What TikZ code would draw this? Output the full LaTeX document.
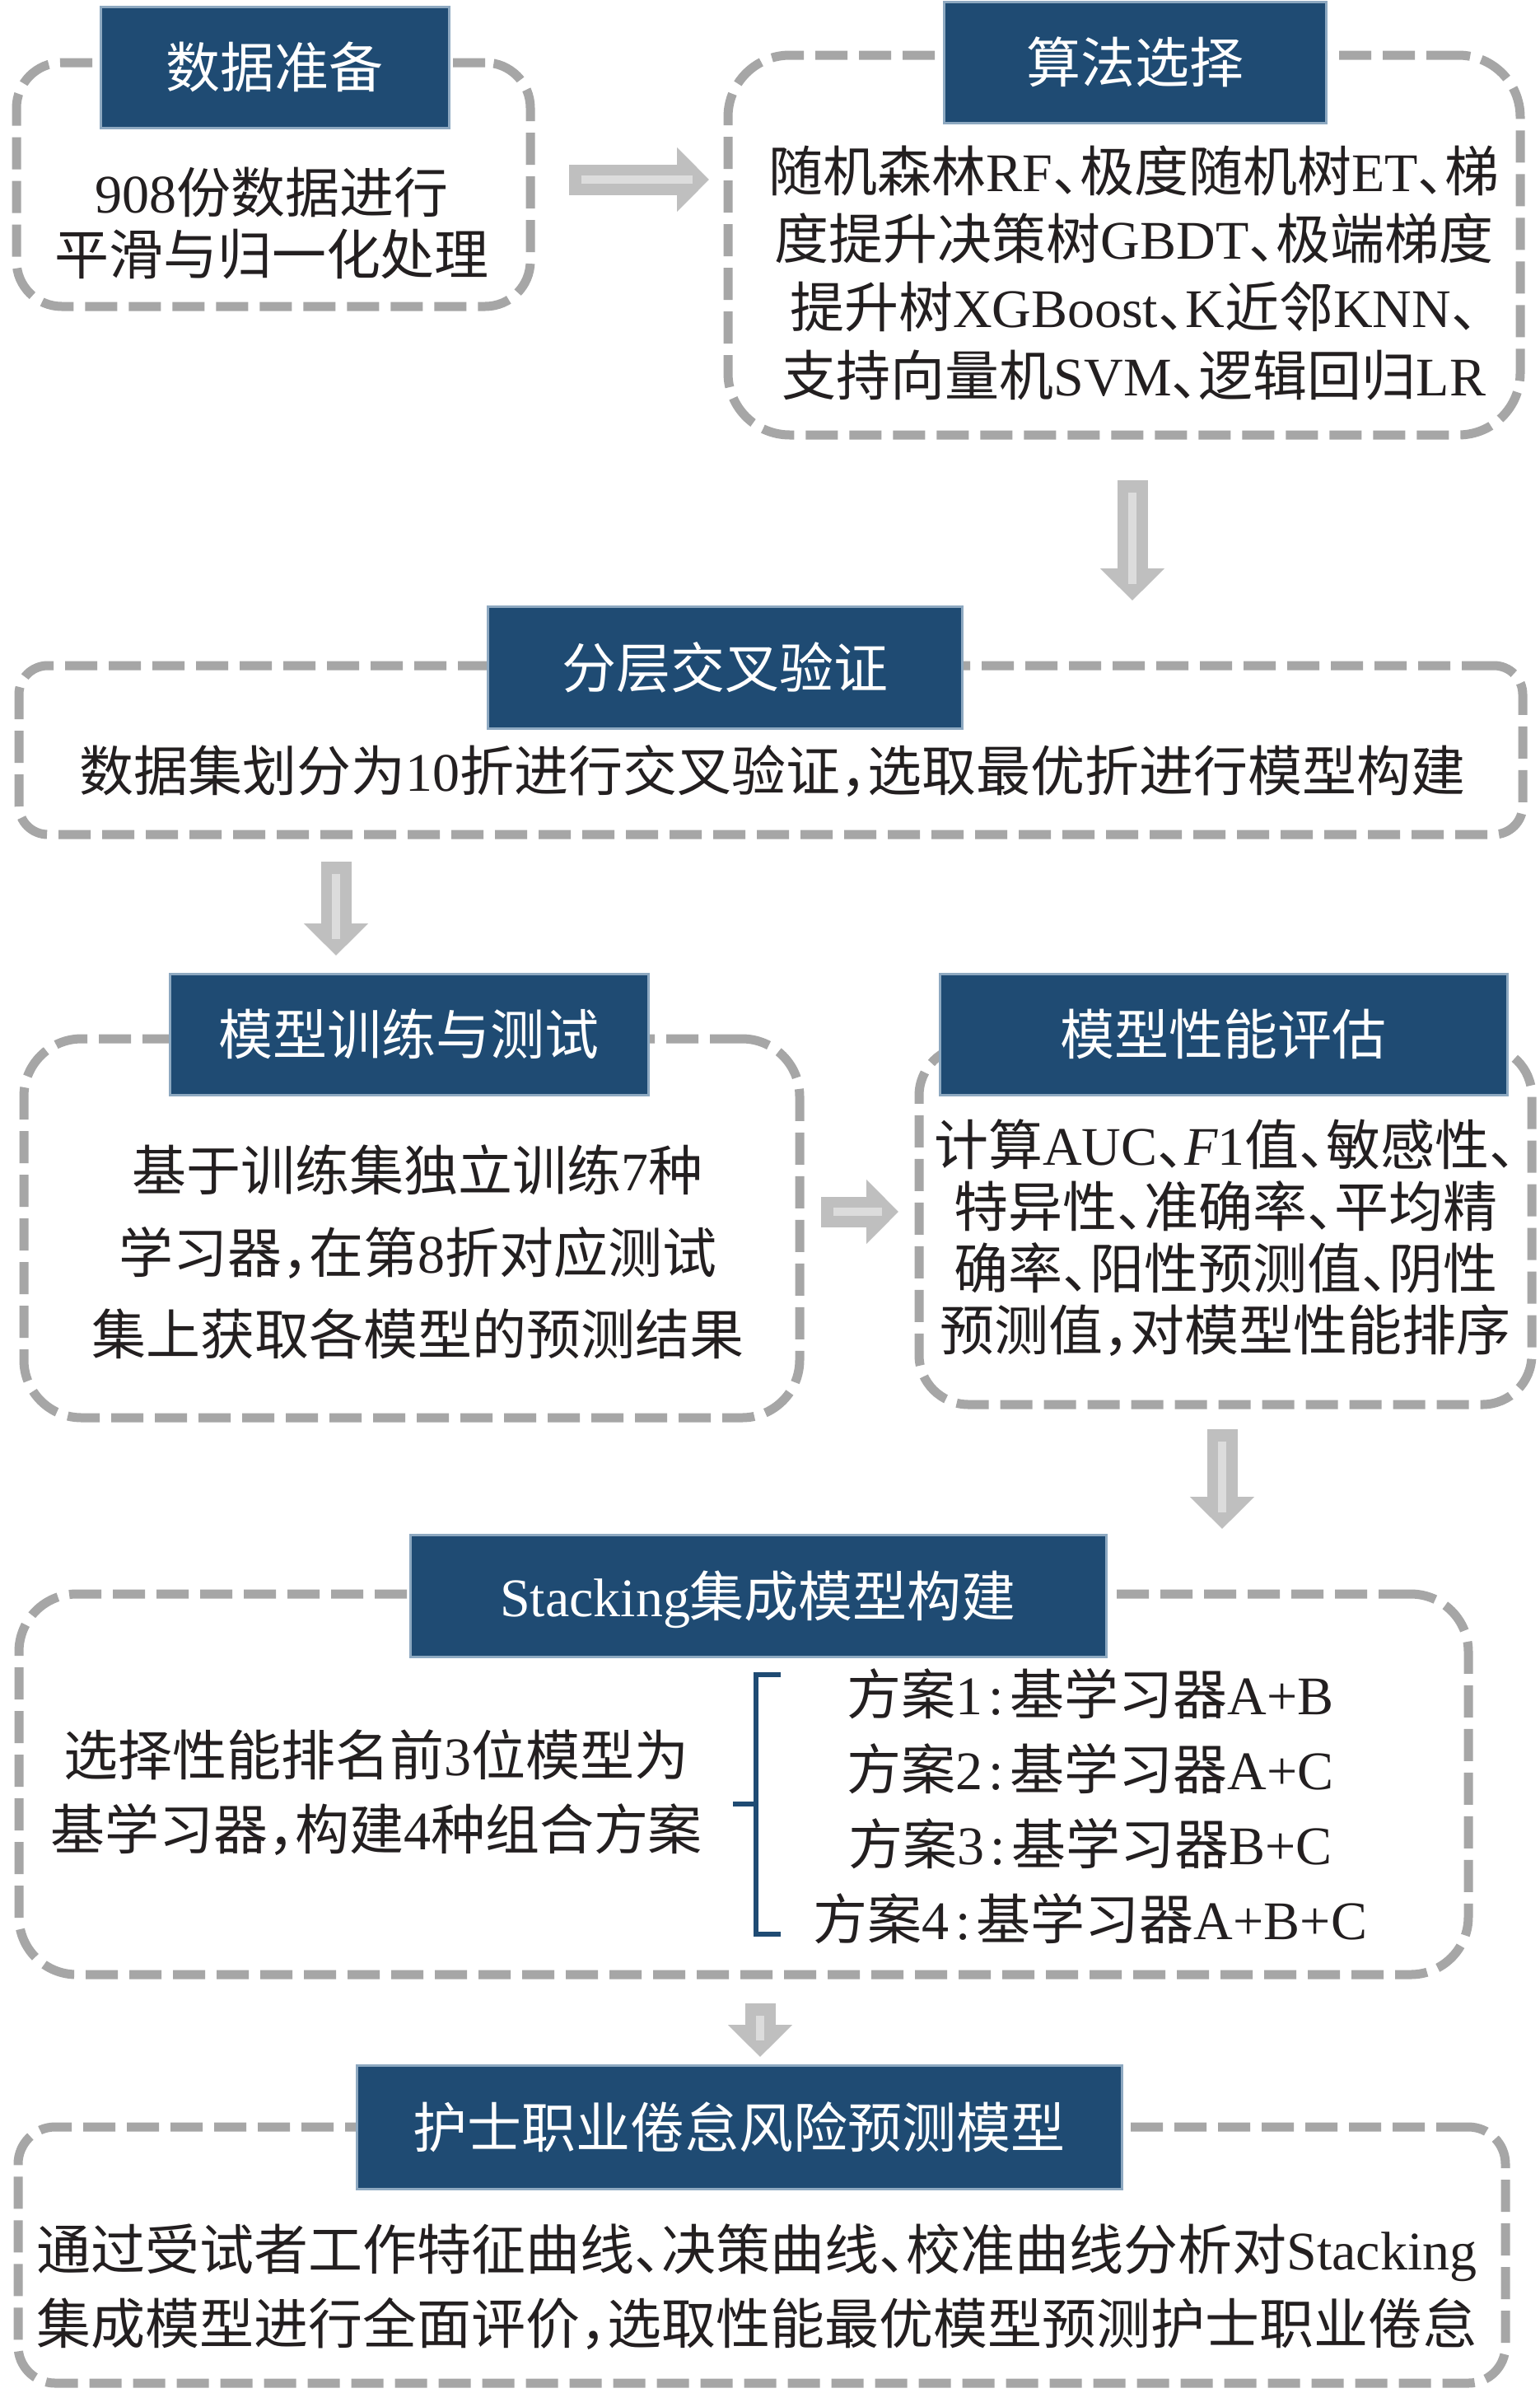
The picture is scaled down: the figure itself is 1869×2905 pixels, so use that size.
\documentclass[tikz,border=0pt]{standalone}
\usepackage{fontspec}
\setmainfont{Noto Sans CJK SC}
\newfontfamily\lat{Liberation Serif}
\usetikzlibrary{arrows.meta}
\definecolor{tblue}{HTML}{1F4B73}
\definecolor{tedge}{HTML}{8EA9C1}
\definecolor{dgray}{HTML}{A6A6A6}
\definecolor{agray}{HTML}{BFBFBF}
\definecolor{alight}{HTML}{DCDCDC}
\definecolor{txt}{HTML}{231F20}
\newcommand\lx[1]{{\lat #1}}
\newcommand\hdun{\makebox[0.5em][l]{、}}
\newcommand\hdou{\makebox[0.5em][l]{，}}
\newcommand\hmao{\makebox[0.5em][c]{\lat :}}
\tikzset{
  dbox/.style={draw=dgray, line width=11pt, dash pattern=on 39pt off 14pt, rounded corners=#1, inner sep=0pt},
  ttl/.style={fill=tblue, draw=tedge, line width=3pt, text=white, inner sep=0pt,
    font=\fontsize{66pt}{79pt}\selectfont, text height=57pt, text depth=7pt},
  ln/.style={anchor=base, inner sep=0pt, text=txt, font=\fontsize{66pt}{79pt}\selectfont},
  barrow/.style={draw=agray, line width=37pt, -{Triangle[length=39pt,width=76pt]}},
  bstripe/.style={draw=alight, line width=10pt},
  brk/.style={draw=tblue, line width=6pt},
}
\begin{document}
\begin{tikzpicture}[x=1pt,y=-1pt]
\useasboundingbox (0,0) rectangle (1869,2905);
\fill[white] (0,0) rectangle (1869,2905);

% dashed frames
\node[dbox=55pt, minimum width=624pt, minimum height=296pt] (D1) at (332,224) {};
\node[dbox=75pt, minimum width=962pt, minimum height=461pt] (D2) at (1365,297.5) {};
\node[dbox=35pt, minimum width=1826pt, minimum height=205pt] (D3) at (936,910.5) {};
\node[dbox=70pt, minimum width=942pt, minimum height=460pt] (D4) at (500,1491) {};
\node[dbox=60pt, minimum width=744pt, minimum height=435pt] (D5) at (1488,1487.5) {};
\node[dbox=70pt, minimum width=1760pt, minimum height=462pt] (D6) at (903,2166) {};
\node[dbox=45pt, minimum width=1806pt, minimum height=311pt] (D7) at (925,2737.5) {};

% title bars
\node[ttl, minimum width=423pt, minimum height=147pt] (T1) at (333.5,81.5) {数据准备};
\node[ttl, minimum width=464pt, minimum height=147pt] (T2) at (1378,75.5) {算法选择};
\node[ttl, minimum width=576pt, minimum height=148pt] (T3) at (880,810) {分层交叉验证};
\node[ttl, minimum width=581pt, minimum height=147pt] (T4) at (496.5,1255.5) {模型训练与测试};
\node[ttl, minimum width=689pt, minimum height=147pt] (T5) at (1485.5,1255.5) {模型性能评估};
\node[ttl, minimum width=845pt, minimum height=148pt] (T6) at (920.5,1937) {\lx{Stacking}集成模型构建};
\node[ttl, minimum width=929pt, minimum height=150pt] (T7) at (897.5,2582) {护士职业倦怠风险预测模型};

% box 1 text
\node[ln] (b1a) at (330,258.5) {\lx{908}份数据进行};
\node[ln] (b1b) at (330,333) {平滑与归一化处理};
% box 2 text
\node[ln] (b2a) at (1377,232) {随机森林\lx{RF}\hdun 极度随机树\lx{ET}\hdun 梯};
\node[ln] (b2b) at (1377,314) {度提升决策树\lx{GBDT}\hdun 极端梯度};
\node[ln] (b2c) at (1377,397) {提升树\lx{XGBoost}\hdun\lx{K}近邻\lx{KNN}\hdun};
\node[ln] (b2d) at (1377,480) {支持向量机\lx{SVM}\hdun 逻辑回归\lx{LR}};
% box 3 text
\node[ln] (b3a) at (938,960) {数据集划分为\lx{10}折进行交叉验证\hdou 选取最优折进行模型构建};
% box 4 text
\node[ln] (b4a) at (507,1445) {基于训练集独立训练\lx{7}种};
\node[ln] (b4b) at (507,1545) {学习器\hdou 在第\lx{8}折对应测试};
\node[ln] (b4c) at (507,1644) {集上获取各模型的预测结果};
% box 5 text
\node[ln] (b5a) at (1488,1414) {计算\lx{AUC}\hdun{\lat\itshape F}\lx{1}值\hdun 敏感性\hdun};
\node[ln] (b5b) at (1488,1489) {特异性\hdun 准确率\hdun 平均精};
\node[ln] (b5c) at (1488,1564) {确率\hdun 阳性预测值\hdun 阴性};
\node[ln] (b5d) at (1488,1639) {预测值\hdou 对模型性能排序};
% box 6 text
\node[ln] (b6a) at (457,2155) {选择性能排名前\lx{3}位模型为};
\node[ln] (b6b) at (457,2245) {基学习器\hdou 构建\lx{4}种组合方案};
\node[ln] (b6c) at (1324,2081) {方案\lx{1}\hmao 基学习器\lx{A+B}};
\node[ln] (b6d) at (1324,2172) {方案\lx{2}\hmao 基学习器\lx{A+C}};
\node[ln] (b6e) at (1324,2263) {方案\lx{3}\hmao 基学习器\lx{B+C}};
\node[ln] (b6f) at (1324,2354) {方案\lx{4}\hmao 基学习器\lx{A+B+C}};
% box 7 text
\node[ln] (b7a) at (919,2755) {通过受试者工作特征曲线\hdun 决策曲线\hdun 校准曲线分析对\lx{Stacking}};
\node[ln] (b7b) at (919,2845) {集成模型进行全面评价\hdou 选取性能最优模型预测护士职业倦怠};

% bracket
\coordinate (k1) at (948,2033);
\coordinate (k2) at (918,2033);
\coordinate (k3) at (918,2348);
\coordinate (k4) at (948,2348);
\coordinate (k5) at (890,2190);
\coordinate (k6) at (918,2190);
\draw[brk] (k1) -- (k2) -- (k3) -- (k4);
\draw[brk] (k5) -- (k6);

% block arrows
\coordinate (a1s) at (691,218);   \coordinate (a1e) at (861,218);
\coordinate (a2s) at (1375,583);  \coordinate (a2e) at (1375,729);
\coordinate (a3s) at (408,1046);  \coordinate (a3e) at (408,1160);
\coordinate (a4s) at (997,1471);  \coordinate (a4e) at (1091,1471);
\coordinate (a5s) at (1484,1735); \coordinate (a5e) at (1484,1856);
\coordinate (a6s) at (923,2432);  \coordinate (a6e) at (923,2497);
\foreach \s/\e in {a1s/a1e,a2s/a2e,a3s/a3e,a4s/a4e,a5s/a5e,a6s/a6e}{
  \draw[barrow] (\s) -- (\e);
  \draw[bstripe, shorten <=15pt, shorten >=20pt] (\s) -- (\e);
}
\end{tikzpicture}
\end{document}
